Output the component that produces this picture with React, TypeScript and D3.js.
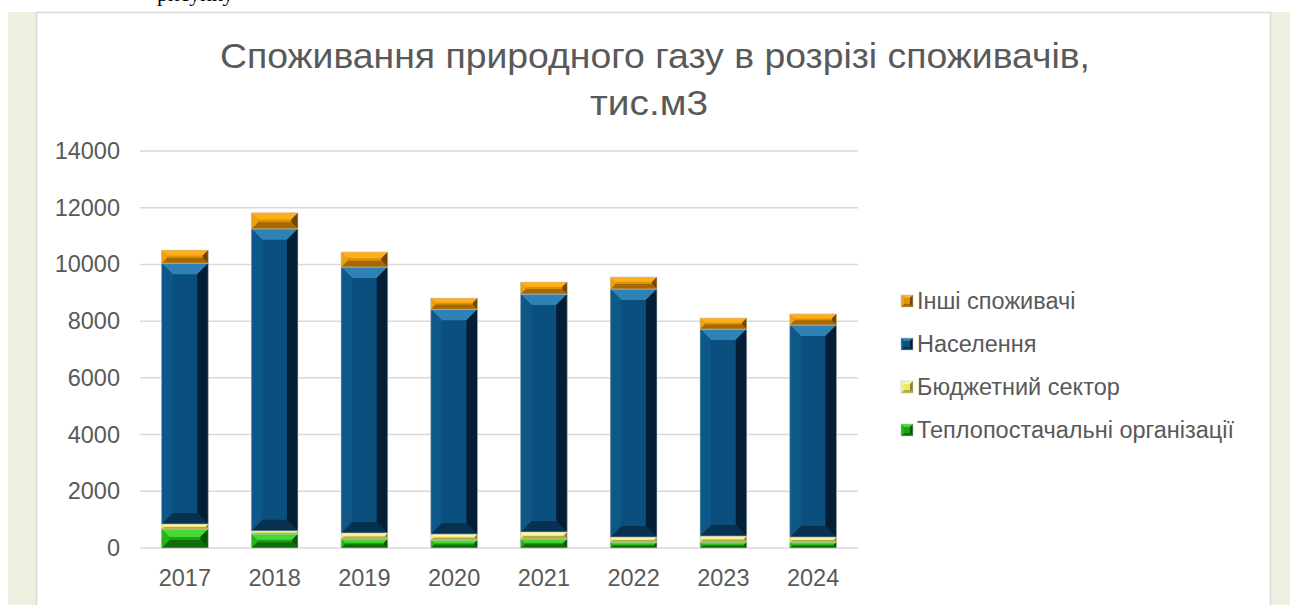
import React from 'react'
import * as d3 from 'd3'

// years along the x axis
const years = ['2017', '2018', '2019', '2020', '2021', '2022', '2023', '2024']

// series values, thousand m3
const teplo = [670, 495, 320, 280, 320, 210, 210, 210]
const budget = [175, 110, 210, 210, 245, 175, 210, 175]
const naselennia = [9200, 10650, 9380, 7930, 8390, 8750, 7300, 7480]
const inshi = [460, 565, 530, 390, 425, 420, 390, 390]

const seriesNames = ['Теплопостачальні організації', 'Бюджетний сектор', 'Населення', 'Інші споживачі']
const yTicks = [0, 2000, 4000, 6000, 8000, 10000, 12000, 14000]

const titleLines = ['Споживання природного газу в розрізі споживачів,', 'тис.м3']
const titleWidths = [870, 118]
const titleCenters = [655, 649]

// bevel palettes: base, top, left, right, bottom
const palettes = [
  { base: '#1ba410', top: '#48d836', left: '#26b31a', right: '#0b5407', bottom: '#0f6e09' },
  { base: '#eee866', top: '#fbf8a8', left: '#f3ee80', right: '#8c8630', bottom: '#b5ad3c' },
  { base: '#0a4f7e', top: '#2f82b6', left: '#0d5888', right: '#041f35', bottom: '#07324f' },
  { base: '#dc9200', top: '#ffae1a', left: '#eea010', right: '#704500', bottom: '#a66800' },
]

const W = 1290
const H = 605
const plotLeft = 140
const plotRight = 858
const plotTop = 151
const plotBottom = 548

function Bevel({ x, y, w, h, p, max = 11 }) {
  const b = Math.max(0.5, Math.min(max, h / 2.4, w / 4))
  const pts = (a) => a.map((q) => q.join(',')).join(' ')
  return (
    <g>
      <rect x={x} y={y} width={w} height={h} fill={p.base} />
      <polygon points={pts([[x, y], [x + w, y], [x + w - b, y + b], [x + b, y + b]])} fill={p.top} />
      <polygon points={pts([[x, y + h], [x + w, y + h], [x + w - b, y + h - b], [x + b, y + h - b]])} fill={p.bottom} />
      <polygon points={pts([[x, y], [x + b, y + b], [x + b, y + h - b], [x, y + h]])} fill={p.left} />
      <polygon points={pts([[x + w, y], [x + w - b, y + b], [x + w - b, y + h - b], [x + w, y + h]])} fill={p.right} />
      <rect x={x} y={y} width={w} height={h} fill="none" stroke="#c8c8c8" strokeWidth={0.8} strokeOpacity={0.7} />
    </g>
  )
}

export default function App() {
  const rows = years.map((yr, i) => ({
    year: yr,
    s0: teplo[i],
    s1: budget[i],
    s2: naselennia[i],
    s3: inshi[i],
  }))
  const stack = d3.stack().keys(['s0', 's1', 's2', 's3'])(rows)

  const x = d3.scaleBand().domain(years).range([plotLeft, plotRight]).paddingInner(0.48).paddingOuter(0.24)
  const y = d3.scaleLinear().domain([0, 14000]).range([plotBottom, plotTop])

  const font = '"Liberation Sans", Arial, sans-serif'
  const grey = '#595959'

  return (
    <svg width={W} height={H} style={{ position: 'absolute', left: 0, top: 0 }}>
      <rect x={8} y={12} width={W - 8} height={H - 12} fill="#ebf1de" />
      <rect x={36.5} y={12.5} width={1234} height={H} fill="#ffffff" stroke="#d9d9d9" strokeWidth={1.5} />
      <text x={157} y={1} fontFamily="'Liberation Serif', 'Times New Roman', serif" fontSize={22} fill="#000">рисунку</text>

      {titleLines.map((t, i) => (
        <text
          key={i}
          x={titleCenters[i]}
          y={68 + i * 47}
          textAnchor="middle"
          fontFamily={font}
          fontSize={35}
          fill={grey}
          textLength={titleWidths[i]}
          lengthAdjust="spacingAndGlyphs"
        >
          {t}
        </text>
      ))}

      {yTicks.map((t) => (
        <g key={t}>
          <line x1={plotLeft} x2={plotRight} y1={y(t)} y2={y(t)} stroke="#d9d9d9" strokeWidth={1.5} />
          <text x={120} y={y(t) + 8} textAnchor="end" fontFamily={font} fontSize={23.5} fill={grey}>{t}</text>
        </g>
      ))}

      {stack.map((layer, si) => (
        <g key={si}>
          {layer.map((d, i) => (
            <Bevel
              key={i}
              x={x(years[i])}
              y={y(d[1])}
              w={x.bandwidth()}
              h={y(d[0]) - y(d[1])}
              p={palettes[si]}
            />
          ))}
        </g>
      ))}

      {years.map((yr) => (
        <text key={yr} x={x(yr) + x.bandwidth() / 2} y={586} textAnchor="middle" fontFamily={font} fontSize={23.5} fill={grey}>{yr}</text>
      ))}

      {seriesNames.slice().reverse().map((name, i) => {
        const si = seriesNames.length - 1 - i
        const cy = 301 + i * 43
        return (
          <g key={name}>
            <Bevel x={901} y={cy - 6} w={12} h={12} p={palettes[si]} max={4} />
            <text x={917} y={cy + 8} fontFamily={font} fontSize={23.5} fill={grey}>{name}</text>
          </g>
        )
      })}
    </svg>
  )
}
